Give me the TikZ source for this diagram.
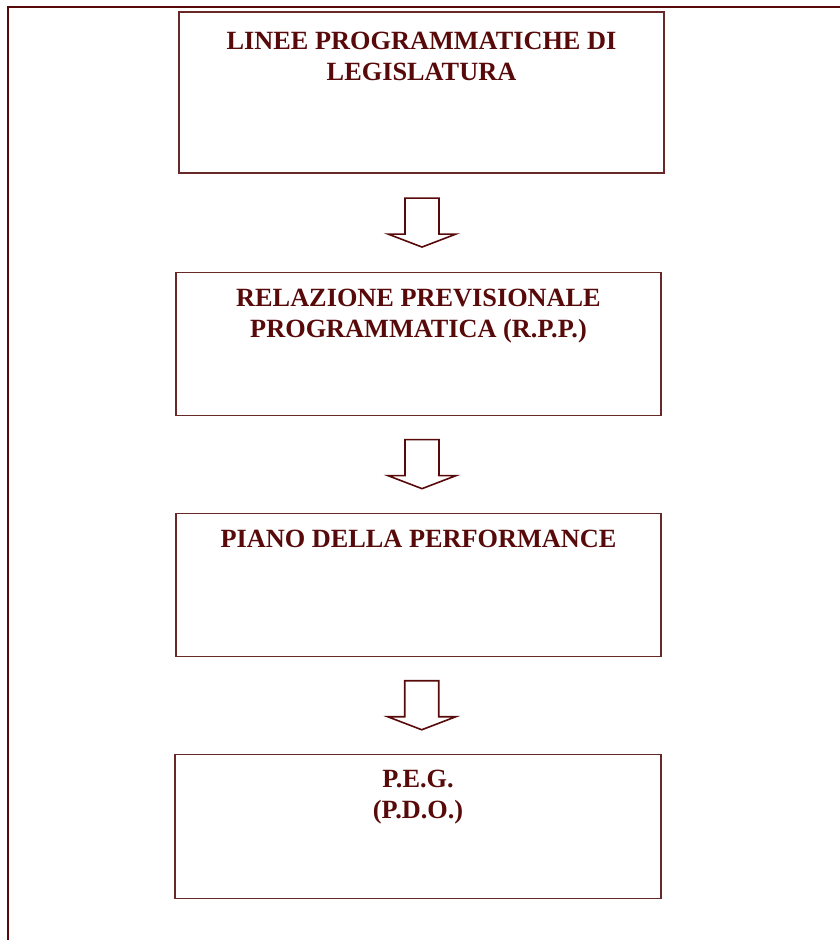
\documentclass[tikz,border=0pt]{standalone}
\usepackage{fontspec}
\setmainfont{Liberation Serif}
\usepackage{tikz}
\usetikzlibrary{positioning,calc}
\definecolor{maroon}{RGB}{88,10,10}
\definecolor{edgeRed}{RGB}{105,40,40}

\begin{document}
\begin{tikzpicture}
[ x=1pt, y=-1pt, node distance=97pt and 10pt,
		stage/.style={rectangle,draw=edgeRed,line width=1.1pt,minimum width=485pt,minimum height=143pt,inner sep=0pt},
		caption/.style={inner sep=0pt,align=center,text=maroon,font=\fontsize{26.3}{31}\selectfont\bfseries},
		frame/.style={draw=maroon,line width=2pt},
		blockarrow/.pic={\draw[maroon,line width=1.6pt,fill=white,line join=miter]
			(-17,-24.5) -- (-17,11.5) -- (-34,11.5) -- (0,24.5) -- (34,11.5) -- (17,11.5) -- (17,-24.5) -- cycle;}]

	\useasboundingbox (0,0) rectangle (839,940);
	\draw[frame] (8,941) -- (8,7) -- (840,7);

	\node[stage,minimum height=161pt] (linee) at (421.5,92.5) {};
	\node[stage] (rpp) [below=98pt of linee,xshift=-3pt] {};
	\node[stage] (piano) [below=of rpp] {};
	\node[stage,minimum width=486pt,minimum height=144pt] (peg) [below=of piano,xshift=-0.5pt] {};

	\node[caption] (lineeText) [below=20pt of linee.north] {LINEE PROGRAMMATICHE DI\\LEGISLATURA};
	\node[caption] (rppText) [below=17pt of rpp.north] {RELAZIONE PREVISIONALE\\PROGRAMMATICA (R.P.P.)};
	\node[caption] (pianoText) [below=17pt of piano.north] {PIANO DELLA PERFORMANCE};
	\node[caption] (pegText) [below=16pt of peg.north] {P.E.G.\\(P.D.O.)};

	\coordinate (gap1) at ($(linee.south)!0.5!(rpp.north)$);
	\coordinate (gap2) at ($(rpp.south)!0.5!(piano.north)$);
	\coordinate (gap3) at ($(piano.south)!0.5!(peg.north)$);
	\pic at ([xshift=2pt]gap1) {blockarrow};
	\pic at ([xshift=3.5pt]gap2) {blockarrow};
	\pic at ([xshift=3.5pt]gap3) {blockarrow};
\end{tikzpicture}
\end{document}
